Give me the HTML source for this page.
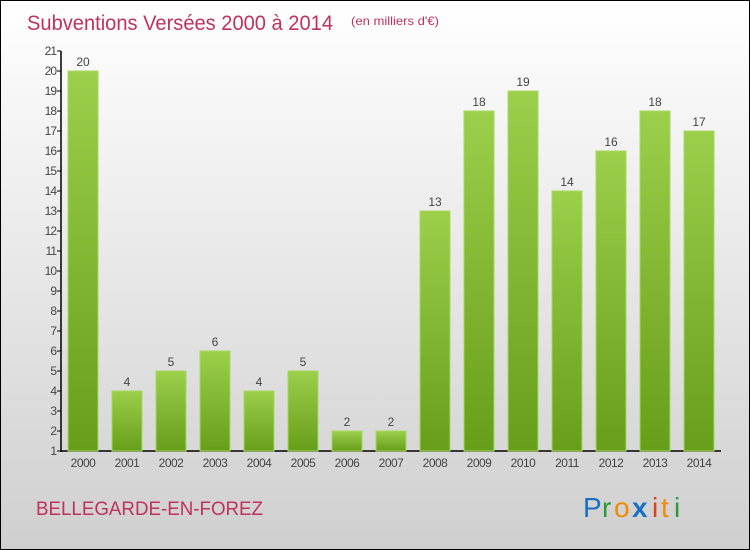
<!DOCTYPE html>
<html><head><meta charset="utf-8"><style>
body{margin:0}
#c{position:relative;width:748px;height:548px;border:1px solid #000;background:linear-gradient(#ffffff,#cfcfcf);font-family:"Liberation Sans",sans-serif;overflow:hidden}
</style></head><body>
<div id="c">
<svg width="748" height="548" style="position:absolute;left:0;top:0" id="s">
<defs><linearGradient id="g" x1="0" y1="0" x2="0" y2="1"><stop offset="0" stop-color="#9ccf4a"/><stop offset="1" stop-color="#669e1a"/></linearGradient></defs>
<text x="26" y="29" font-size="21" fill="#c0325e" textLength="306" lengthAdjust="spacingAndGlyphs">Subventions Versées 2000 à 2014</text>
<text x="350" y="24" font-size="12" fill="#c0325e" textLength="88" lengthAdjust="spacingAndGlyphs">(en milliers d'€)</text>
<text x="35" y="514" font-size="19" fill="#c0325e" textLength="227" lengthAdjust="spacingAndGlyphs">BELLEGARDE-EN-FOREZ</text>
<g font-size="28">
<text x="582" y="516" fill="#1a6fc4">P</text><text x="601" y="516" fill="#2a9a3a">r</text><text x="613" y="516" fill="#f08a00">o</text><text x="631" y="516" fill="#1a6fc4" font-weight="bold">x</text><text x="651" y="516" fill="#e04020">i</text><text x="660" y="516" fill="#f08a00">t</text><text x="673" y="516" fill="#2a9a3a">i</text>
</g>
<g id="plot"></g>
</svg>
</div>
<script>
const years=["2000","2001","2002","2003","2004","2005","2006","2007","2008","2009","2010","2011","2012","2013","2014"];
const values=[20,4,5,6,4,5,2,2,13,18,19,14,16,18,17];
const yTicks=[1,2,3,4,5,6,7,8,9,10,11,12,13,14,15,16,17,18,19,20,21];
const NS="http://www.w3.org/2000/svg";
const p=document.getElementById('plot');
function y(v){return 450-(v-1)*20;}
function x(i){return 82+i*44;}
function mk(t,a,txt){const e=document.createElementNS(NS,t);for(const k in a)e.setAttribute(k,a[k]);if(txt!==undefined)e.textContent=txt;p.appendChild(e);return e;}
let ax=mk('line',{x1:60,y1:y(21),x2:60,y2:451,stroke:'#000','stroke-width':1.5});


let bx=mk('line',{x1:60,y1:450,x2:720,y2:450,stroke:'#000','stroke-width':1.5});


yTicks.forEach(t=>{
 let l=mk('line',{x1:56,y1:y(t),x2:60,y2:y(t),stroke:'#000'});
 
 
 let tx=mk('text',{x:55,y:y(t)+4,'font-size':12,fill:'#444','text-anchor':'end','letter-spacing':'-1'},t);
 
 
});
years.forEach((yr,i)=>{
 const v=values[i];
 let r=mk('rect',{x:x(i)-15,y:y(v),width:30,height:450-y(v),fill:'url(#g)',stroke:'#a8d860','stroke-width':1});
 
 
 let lb=mk('text',{x:x(i),y:y(v)-5,'font-size':12,fill:'#444','text-anchor':'middle'},v);
 
 
 let xl=mk('text',{x:x(i),y:466,'font-size':12,fill:'#444','text-anchor':'middle','letter-spacing':'-0.5'},yr);
 
 
});
</script>
</body></html>
